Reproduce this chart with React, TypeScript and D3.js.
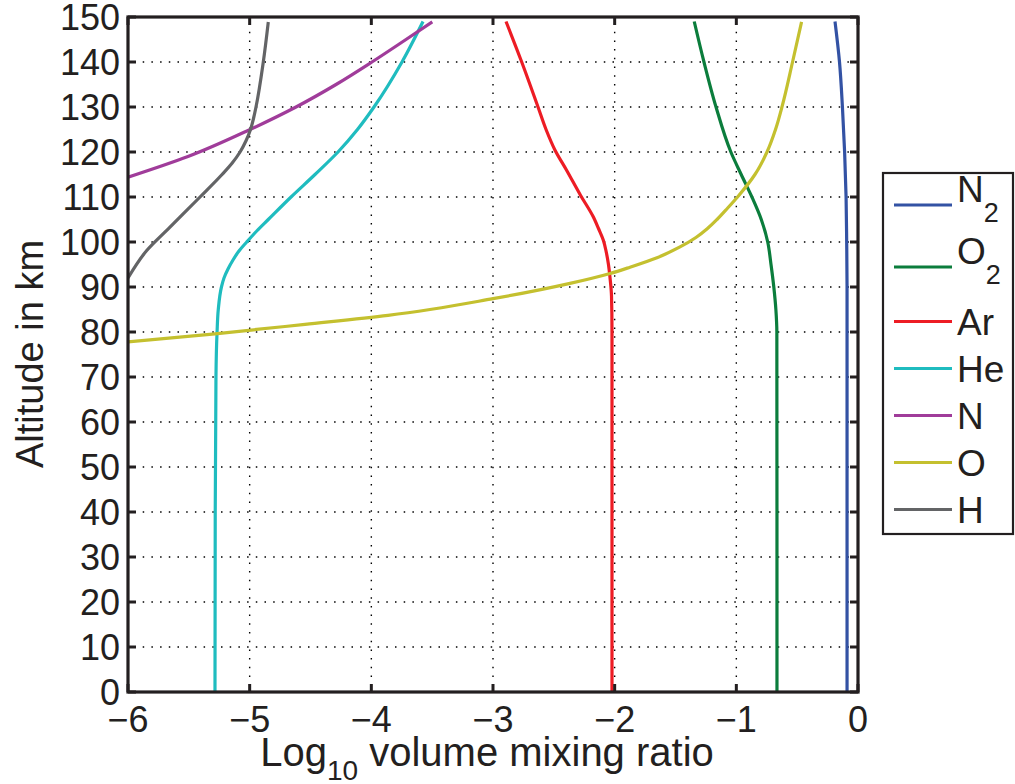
import React from 'react';
import * as d3 from 'd3';

// altitude (km) / log10 volume mixing ratio
const altN2 = [0, 40, 80, 90, 100, 110, 120, 130, 140, 149];
const valN2 = [-0.09, -0.09, -0.09, -0.09, -0.093, -0.098, -0.11, -0.128, -0.152, -0.189];

const altO2 = [0, 40, 80, 85, 90, 95, 100, 105, 110, 115, 120, 130, 140, 149];
const valO2 = [-0.666, -0.666, -0.667, -0.675, -0.692, -0.715, -0.742, -0.795, -0.872, -0.96, -1.045, -1.167, -1.266, -1.346];

const altAr = [0, 40, 80, 88, 92, 95, 98, 100.4, 103, 105.6, 110.4, 115.9, 120.4, 125, 130, 140, 149];
const valAr = [-2.022, -2.022, -2.022, -2.026, -2.038, -2.051, -2.071, -2.093, -2.133, -2.176, -2.281, -2.394, -2.49, -2.564, -2.63, -2.764, -2.893];

const altHe = [0, 40, 70, 80, 85, 90, 92, 94, 96, 98, 100, 102.5, 105, 110, 115, 120, 125, 130, 140, 149];
const valHe = [-5.285, -5.283, -5.277, -5.268, -5.258, -5.232, -5.211, -5.178, -5.137, -5.088, -5.024, -4.94, -4.847, -4.66, -4.463, -4.274, -4.114, -3.978, -3.748, -3.575];

const altN = [114.4, 119, 125, 130, 135, 140, 145, 148.9];
const valN = [-6.0, -5.507, -4.997, -4.619, -4.29, -3.995, -3.715, -3.499];

const altO = [77.8, 79.6, 81.7, 83.7, 87.4, 90.8, 93.0, 94.4, 96.5, 98.9, 101, 103, 105, 107.5, 110.4, 115, 120, 125, 130, 140, 148.9];
const valO = [-6.0, -5.285, -4.545, -3.863, -3.0, -2.367, -2.038, -1.874, -1.652, -1.463, -1.332, -1.237, -1.159, -1.073, -0.978, -0.847, -0.748, -0.678, -0.625, -0.538, -0.464];

const altH = [92.0, 98.1, 103.3, 110, 115, 117.5, 120, 122.5, 125, 127.5, 130, 140, 148.9];
const valH = [-6.0, -5.846, -5.655, -5.408, -5.227, -5.145, -5.079, -5.03, -4.993, -4.968, -4.948, -4.888, -4.847];

const species = ['N2', 'O2', 'Ar', 'He', 'N', 'O', 'H'];
const colors = ['#3352a4', '#0b7d3c', '#ed1c24', '#1fbcbf', '#a03c9a', '#c4c02f', '#636466'];
const seriesAlt = [altN2, altO2, altAr, altHe, altN, altO, altH];
const seriesVal = [valN2, valO2, valAr, valHe, valN, valO, valH];

const xTicks = [-6, -5, -4, -3, -2, -1, 0];
const yTicks = [0, 10, 20, 30, 40, 50, 60, 70, 80, 90, 100, 110, 120, 130, 140, 150];

const W = 1015;
const H = 784;
const font = '"Liberation Sans", Arial, Helvetica, sans-serif';

export default function App() {
  const x = d3.scaleLinear().domain([-6, 0]).range([128, 858]);
  const y = d3.scaleLinear().domain([0, 150]).range([692, 17]);
  const [x0, x1] = x.range();
  const [y0, y1] = y.range();

  // altitude is monotone along each profile, so a monotone-in-y spline keeps it smooth
  const line = d3
    .line<[number, number]>()
    .x(d => x(d[1]))
    .y(d => y(d[0]))
    .curve(d3.curveMonotoneY);

  const paths = species.map((s, i) => ({
    name: s,
    color: colors[i],
    d: line(seriesAlt[i].map((a, j) => [a, seriesVal[i][j]] as [number, number]).reverse()) || '',
  }));

  // legend layout
  const legX = 883;
  const legTop = 173;
  let cursor = legTop + 1;
  const legRows = species.map((s, i) => {
    const sub = s.endsWith('2');
    const h = sub ? 62 : 47;
    const cy = cursor + h / 2;
    cursor += h;
    return { s, sub, cy, color: colors[i] };
  });
  const legBottom = cursor + 1;

  const minus = (v: number) => (v < 0 ? '\u2212' + Math.abs(v) : String(v));

  return (
    <div style={{ position: 'absolute', left: 0, top: 0 }}>
      <svg width={W} height={H} style={{ display: 'block', background: '#fff' }} fontFamily={font}>
        <defs>
          <clipPath id="plot">
            <rect x={x0} y={y1} width={x1 - x0} height={y0 - y1} />
          </clipPath>
        </defs>

        {/* grid */}
        <g stroke="#000" strokeWidth={1.4} strokeDasharray="1.5 7.2">
          {yTicks.slice(1, -1).map(t => (
            <line key={'gy' + t} x1={x0 + 6} x2={x1 - 6} y1={y(t)} y2={y(t)} />
          ))}
          {xTicks.slice(1, -1).map(t => (
            <line key={'gx' + t} x1={x(t)} x2={x(t)} y1={y1 + 6} y2={y0 - 6} />
          ))}
        </g>

        {/* curves */}
        <g clipPath="url(#plot)" fill="none" strokeWidth={3.2} strokeLinejoin="round">
          {paths.map(p => (
            <path key={p.name} d={p.d} stroke={p.color} />
          ))}
        </g>

        {/* ticks */}
        <g stroke="#231f20" strokeWidth={3}>
          {yTicks.map(t => (
            <g key={'ty' + t}>
              <line x1={x0} x2={x0 + 8} y1={y(t)} y2={y(t)} />
              <line x1={x1} x2={x1 - 8} y1={y(t)} y2={y(t)} />
            </g>
          ))}
          {xTicks.map(t => (
            <g key={'tx' + t}>
              <line x1={x(t)} x2={x(t)} y1={y0} y2={y0 - 8} />
              <line x1={x(t)} x2={x(t)} y1={y1} y2={y1 + 8} />
            </g>
          ))}
        </g>

        {/* axes box */}
        <rect x={x0} y={y1} width={x1 - x0} height={y0 - y1} fill="none" stroke="#231f20" strokeWidth={3.2} />

        {/* tick labels */}
        <g fill="#231f20" fontSize={36}>
          {yTicks.map(t => (
            <text key={'ly' + t} x={x0 - 8} y={y(t) + 13} textAnchor="end">
              {t}
            </text>
          ))}
          {xTicks.map(t => (
            <text key={'lx' + t} x={x(t)} y={732} textAnchor="middle">
              {minus(t)}
            </text>
          ))}
        </g>

        {/* axis titles */}
        <text x={487} y={766} textAnchor="middle" fontSize={40} fill="#231f20">
          <tspan>Log</tspan>
          <tspan dy={14} fontSize={28}>10</tspan>
          <tspan dy={-14}> volume mixing ratio</tspan>
        </text>
        <text
          transform="translate(43,354) rotate(-90)"
          textAnchor="middle"
          fontSize={38}
          fill="#231f20"
        >
          Altitude in km
        </text>

        {/* legend */}
        <rect x={legX} y={legTop} width={1013 - legX} height={legBottom - legTop} fill="#fff" stroke="#231f20" strokeWidth={2.2} />
        {legRows.map(r => (
          <g key={'leg' + r.s}>
            <line x1={894} x2={952} y1={r.cy} y2={r.cy} stroke={r.color} strokeWidth={3} />
            {r.sub ? (
              <text x={957} y={r.cy - 3} fontSize={37} fill="#231f20">
                <tspan>{r.s.slice(0, -1)}</tspan>
                <tspan dy={20} fontSize={27}>2</tspan>
              </text>
            ) : (
              <text x={957} y={r.cy + 13} fontSize={37} fill="#231f20">
                {r.s}
              </text>
            )}
          </g>
        ))}
      </svg>
    </div>
  );
}
